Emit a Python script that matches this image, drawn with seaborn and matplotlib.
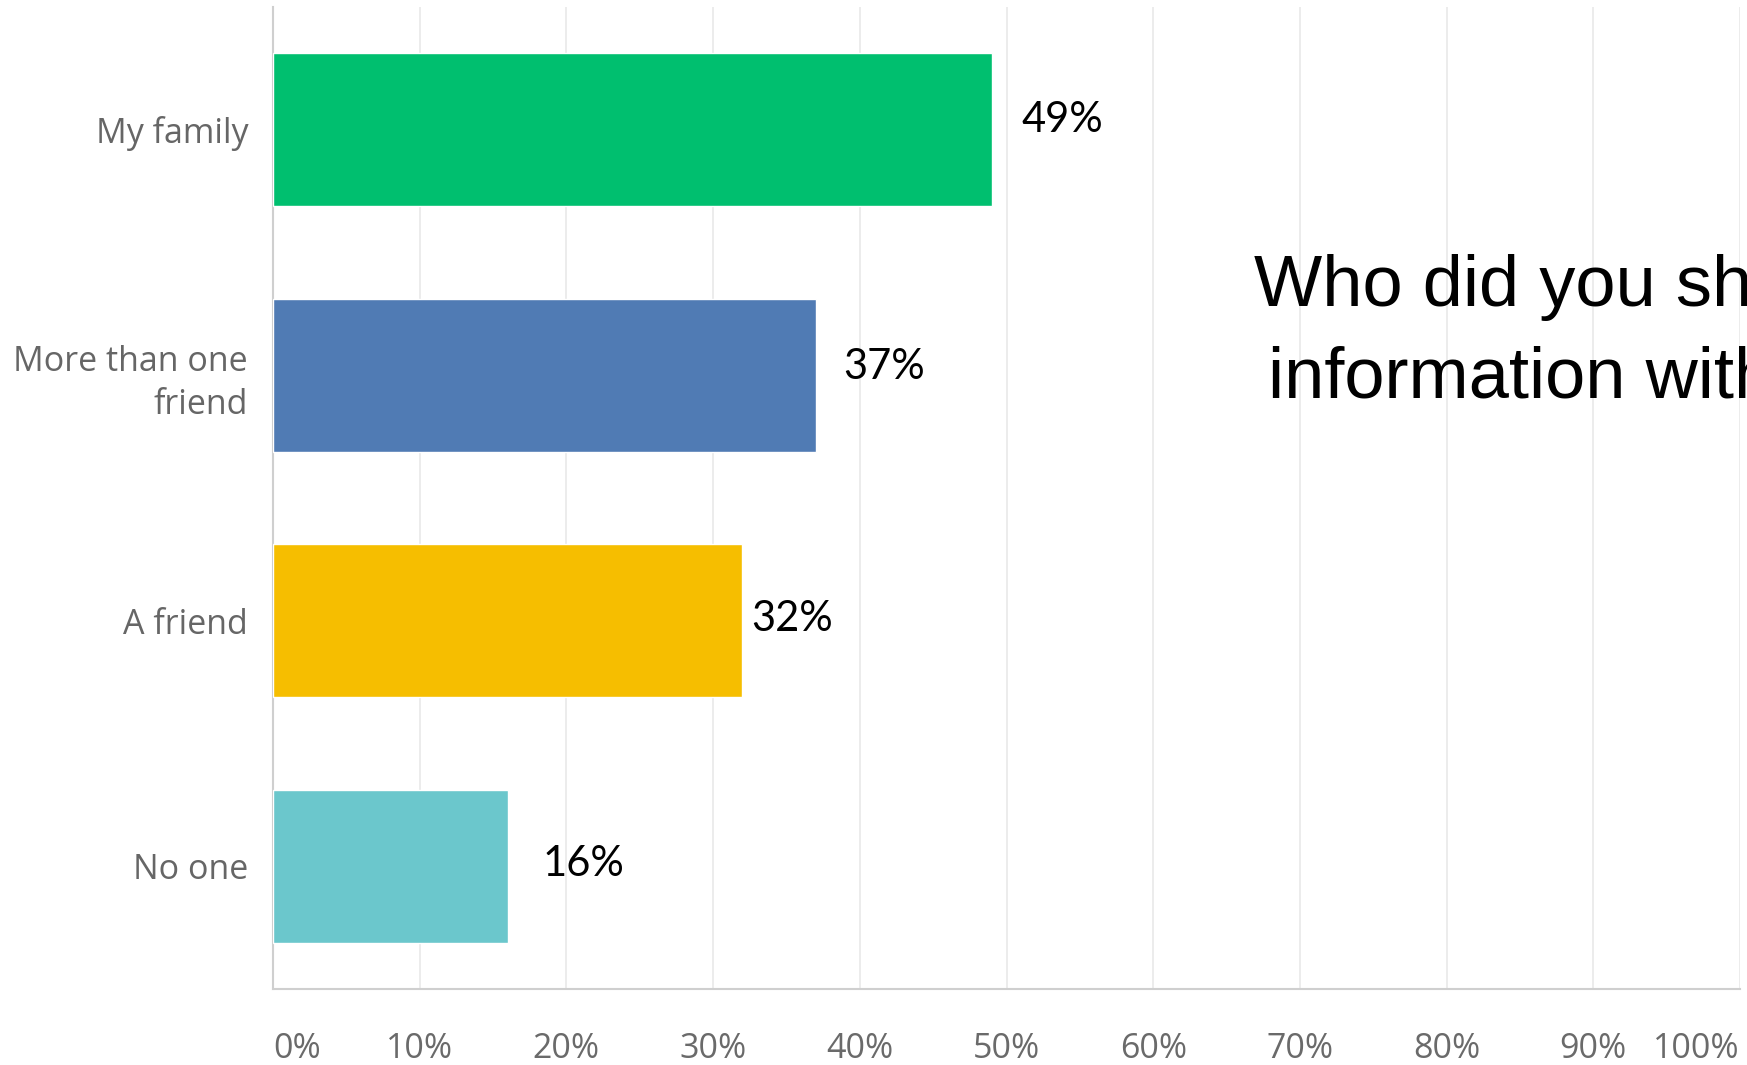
import matplotlib
matplotlib.use("Agg")
import matplotlib.pyplot as plt
import seaborn as sns
import pandas as pd

# Survey answers and their shares (%)
categories = ["My family", "More than one\nfriend", "A friend", "No one"]
shares = [49, 37, 32, 16]
bar_colors = ["#00BF6F", "#507BB4", "#F6BE00", "#6BC7CC"]
tick_values = [0, 10, 20, 30, 40, 50, 60, 70, 80, 90, 100]
tick_labels = [f"{v}%" for v in tick_values]
title_lines = ["Who did you share this", "information with?"]

# per-label nudges for the value annotations (pixels)
label_dx = [30, 27, 9, 35]
label_dy = [10, 8, 2, 2]

sns.set_theme(style="white")
plt.rcParams["font.family"] = ["Open Sans", "DejaVu Sans"]

df = pd.DataFrame({"answer": categories, "share": shares})

fig = plt.figure(figsize=(17.47, 10.65), dpi=100)
fig.patch.set_facecolor("white")
ax = fig.add_axes([273 / 1747, 76 / 1065, (1740 - 273) / 1747, (1058 - 76) / 1065])

sns.barplot(data=df, x="share", y="answer", hue="answer", palette=bar_colors,
            legend=False, orient="h", width=0.625, saturation=1, ax=ax, zorder=3)

ax.set_xlim(0, 100)
ax.set_ylim(3.5, -0.5)
ax.set_xticks(tick_values)
ax.set_xticklabels(tick_labels)
ax.set_xlabel("")
ax.set_ylabel("")

# light vertical grid
ax.grid(axis="x", color="#ebebeb", linewidth=1.3, zorder=0)
ax.set_axisbelow(True)
for side in ["top", "right"]:
    ax.spines[side].set_visible(False)
for side in ["left", "bottom"]:
    ax.spines[side].set_color("#cfcfcf")
    ax.spines[side].set_linewidth(1.5)

ax.tick_params(axis="both", length=0, colors="#6a6a6a", labelsize=24.5)
ax.tick_params(axis="x", pad=31)
ax.tick_params(axis="y", pad=18)
for lbl in ax.get_yticklabels():
    lbl.set_color("#666666")
    lbl.set_linespacing(1.32)
xl = ax.get_xticklabels()
xl[0].set_horizontalalignment("left")
xl[-1].set_horizontalalignment("right")
for lbl in xl:
    lbl.set_color("#6a6a6a")

# value labels next to each bar
for i, (v, dx, dy) in enumerate(zip(shares, label_dx, label_dy)):
    ax.annotate(f"{v}%", xy=(v, i), xytext=(dx * 0.72, dy * 0.72),
                textcoords="offset points", ha="left", va="center",
                fontsize=30, color="black", family=["Lato", "DejaVu Sans"])

# question text, partly running off the right edge
title_font = dict(fontsize=52, color="black", family=["Liberation Sans", "DejaVu Sans"],
                  va="baseline", ha="left")
fig.text(1254 / 1747, 1 - 306 / 1065, title_lines[0], **title_font)
fig.text(1268 / 1747, 1 - 398 / 1065, title_lines[1], **title_font)

fig.savefig("out.png", dpi=100)
